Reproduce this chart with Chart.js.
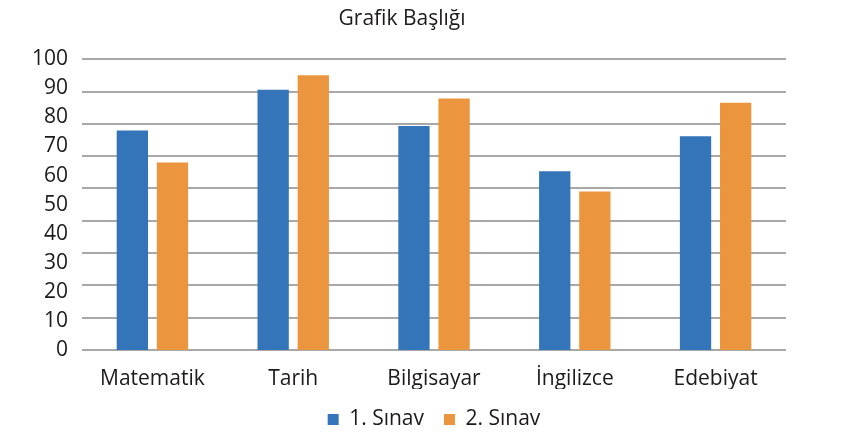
<!DOCTYPE html>
<html>
<head>
<meta charset="utf-8">
<script src="https://cdn.jsdelivr.net/npm/chart.js@4"></script>
<style>
  html, body { margin: 0; padding: 0; background: #fff; }
</style>
</head>
<body>
<canvas id="examChart" width="844" height="440"></canvas>
<script>
// data
const subjects = ['Matematik', 'Tarih', 'Bilgisayar', 'İngilizce', 'Edebiyat'];
const exam1 = [75.5, 89.5, 77, 61.5, 73.5];
const exam2 = [64.5, 94.5, 86.5, 54.5, 85];
const seriesNames = ['1. Sınav', '2. Sınav'];
const chartTitle = 'Grafik Başlığı';

const blue = '#3474b8';
const orange = '#eb963e';
const textColor = '#1c1a1b';

Chart.defaults.font.family = '"Open Sans", "Noto Sans", sans-serif';
Chart.defaults.color = textColor;

// legend sits centred under the plot, not under the whole canvas
const legendUnderPlot = {
    id: 'legendUnderPlot',
    afterLayout(chart) {
        const lg = chart.legend;
        if (!lg) return;
        lg.left = chart.chartArea.left;
        lg.right = chart.chartArea.right;
        lg.width = lg.right - lg.left;
    }
};

const ctx = document.getElementById('examChart').getContext('2d');
new Chart(ctx, {
    type: 'bar',
    data: {
        labels: subjects,
        datasets: [
            { label: seriesNames[0], data: exam1, backgroundColor: blue, yAxisID: 'y' },
            { label: seriesNames[1], data: exam2, backgroundColor: orange, yAxisID: 'y' }
        ]
    },
    options: {
        responsive: false,
        animation: false,
        categoryPercentage: 0.57,
        barPercentage: 0.78,
        layout: { padding: { left: 18, right: 58, top: 2, bottom: 0 } },
        plugins: {
            title: {
                display: true,
                text: chartTitle,
                font: { size: 21, weight: 'normal' },
                padding: { top: 4, bottom: 28 }
            },
            legend: {
                display: true,
                position: 'bottom',
                labels: { boxWidth: 11, boxHeight: 11, padding: 20, font: { size: 21 } }
            },
            tooltip: { enabled: false }
        },
        scales: {
            x: {
                grid: { display: false, drawTicks: false },
                border: { display: false },
                ticks: { font: { size: 21 }, padding: 16 },
                afterFit: s => { s.height = 39; }
            },
            y: {
                position: 'left',
                min: 0,
                max: 100,
                grid: { display: false, drawTicks: false },
                border: { display: false },
                ticks: { stepSize: 10, autoSkip: false, font: { size: 21 }, padding: 14 }
            },
            // the reference's gridlines split 0-100 in nine steps, not ten
            yGrid: {
                position: 'right',
                min: 0,
                max: 100,
                ticks: { display: false, count: 10 },
                border: { display: false },
                grid: { color: '#a8a8a8', lineWidth: 2, drawTicks: false }
            }
        }
    },
    plugins: [legendUnderPlot]
});
</script>
</body>
</html>
